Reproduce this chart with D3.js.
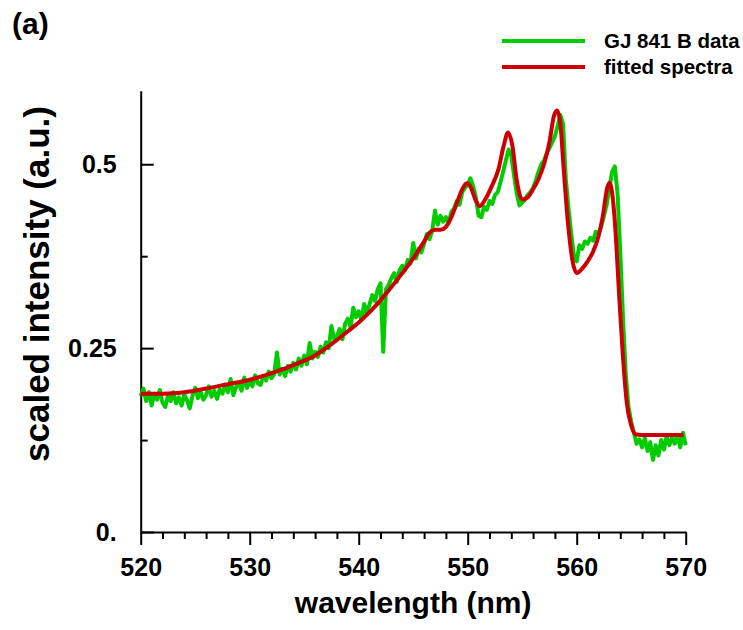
<!DOCTYPE html>
<html>
<head>
    <meta charset="UTF-8">
    <title>GJ 841 B spectrum</title>
    <script src="https://d3js.org/d3.v7.min.js"></script>
    <style>
        body { margin: 0; background: #ffffff; }
        svg { font-family: "Liberation Sans", Arial, sans-serif; font-weight: bold; }
        .axis path, .axis line { stroke: #000; stroke-width: 2; }
        .axis text { font-size: 25px; font-weight: bold; fill: #000; }
    </style>
</head>
<body>
<svg id="chart" width="743" height="630"></svg>
<script>
    // observed spectrum, sampled every 0.25 nm from 520 nm
    const dataStart = 520;
    const dataStep = 0.25;
    const dataValues = [
        0.185, 0.195, 0.178, 0.190,  0.172, 0.188, 0.180, 0.193,  0.176, 0.170, 0.185, 0.178,
        0.190, 0.175, 0.183, 0.172,  0.187, 0.179, 0.168, 0.185,  0.196, 0.182, 0.190, 0.180,
        0.186, 0.198, 0.184, 0.192,  0.181, 0.194, 0.188, 0.200,  0.190, 0.208, 0.186, 0.197,
        0.203, 0.192, 0.210, 0.196,  0.205, 0.198, 0.213, 0.202,  0.200, 0.212, 0.206, 0.218,
        0.209, 0.215, 0.244, 0.214,  0.222, 0.212, 0.226, 0.218,  0.230, 0.221, 0.236, 0.226,
        0.240, 0.228, 0.257, 0.236,  0.245, 0.238, 0.252, 0.244,  0.258, 0.250, 0.280, 0.262,
        0.266, 0.276, 0.262, 0.283,  0.290, 0.278, 0.305, 0.292,  0.300, 0.288, 0.310, 0.297,
        0.310, 0.322, 0.314, 0.330,  0.338, 0.245, 0.330, 0.336,  0.345, 0.352, 0.340, 0.356,
        0.362, 0.356, 0.370, 0.365,  0.393, 0.372, 0.385, 0.380,  0.392, 0.405, 0.398, 0.410,
        0.437, 0.418, 0.430, 0.422,  0.428, 0.420, 0.435, 0.440,  0.450, 0.445, 0.462, 0.468,
        0.472, 0.481, 0.470, 0.455,  0.430, 0.428, 0.442, 0.438,  0.450, 0.446, 0.458, 0.462,
        0.475, 0.490, 0.505, 0.520,  0.512, 0.485, 0.460, 0.444,  0.448, 0.452, 0.458, 0.462,
        0.468, 0.478, 0.490, 0.500,  0.505, 0.515, 0.522, 0.530,  0.538, 0.552, 0.567, 0.555,
        0.480, 0.440, 0.405, 0.375,  0.368, 0.390, 0.385, 0.395,  0.392, 0.400, 0.396, 0.408,
        0.405, 0.415, 0.430, 0.445,  0.468, 0.490, 0.497, 0.460,  0.380, 0.290, 0.215, 0.170,
        0.150, 0.135, 0.120, 0.126,  0.115, 0.128, 0.110, 0.122,  0.098, 0.118, 0.104, 0.125,
        0.112, 0.130, 0.118, 0.128,  0.120, 0.132, 0.115, 0.135,  0.118
    ];

    // fitted spectrum
    const fitWavelengths = [
        520, 522, 524, 526, 528, 530, 532, 533, 534, 535, 536, 537, 538, 539, 540, 541, 542,
        543, 544, 545, 546, 546.5, 547, 547.5, 548, 548.5, 549, 549.5, 549.9, 550.3, 550.7,
        551.1, 551.6, 552.2, 552.8, 553.3, 553.7, 554.1, 554.5, 555.0, 555.5, 556.0, 556.5,
        557.0, 557.5, 557.9, 558.2, 558.5, 558.8, 559.2, 559.6, 560.0, 560.5, 561.0, 561.5,
        562.0, 562.4, 562.8, 563.0, 563.3, 563.6, 563.9, 564.2, 564.6, 565.0, 565.4, 566, 569.8
    ];
    const fitValues = [
        0.188, 0.188, 0.190, 0.195, 0.201, 0.207, 0.216, 0.221, 0.227, 0.233, 0.240, 0.250, 0.261, 0.273, 0.285, 0.299, 0.315,
        0.333, 0.352, 0.372, 0.395, 0.407, 0.411, 0.411, 0.415, 0.428, 0.447, 0.466, 0.474, 0.468, 0.452,
        0.443, 0.452, 0.470, 0.492, 0.525, 0.543, 0.525, 0.478, 0.452, 0.455, 0.466, 0.480,
        0.500, 0.530, 0.565, 0.573, 0.555, 0.495, 0.420, 0.370, 0.352, 0.358, 0.368, 0.381,
        0.402, 0.430, 0.468, 0.475, 0.455, 0.400, 0.320, 0.248, 0.175, 0.145, 0.133, 0.132, 0.132
    ];

    const xMajorTicks = [520, 530, 540, 550, 560, 570];
    const xMinorTicks = [522, 524, 526, 528, 532, 534, 536, 538, 542, 544, 546, 548, 552, 554, 556, 558, 562, 564, 566, 568];
    const yMajorTicks = [0, 0.25, 0.5];
    const yTickLabels = ['0.', '0.25', '0.5'];
    const yMinorTicks = [0.125, 0.375];

    const seriesNames = ['GJ 841 B data', 'fitted spectra'];
    const seriesColors = ['#00cc00', '#cc0000'];

    const observed = dataValues.map((v, i) => ({ wl: dataStart + i * dataStep, v: v }));
    const fitted = fitWavelengths.map((w, i) => ({ wl: w, v: fitValues[i] }));

    const svg = d3.select('#chart');
    const plotLeft = 140.7, plotRight = 685.7, plotTop = 90.7, plotBottom = 532;

    const x = d3.scaleLinear().domain([520, 570]).range([plotLeft, plotRight]);
    const y = d3.scaleLinear().domain([0, 0.6]).range([plotBottom, plotTop]);

    // minor ticks first
    svg.append('g')
        .attr('class', 'axis')
        .attr('transform', `translate(0,${plotBottom})`)
        .call(d3.axisBottom(x).tickValues(xMinorTicks).tickSize(7).tickFormat(''))
        .select('.domain').remove();

    svg.append('g')
        .attr('class', 'axis')
        .attr('transform', `translate(${plotLeft},0)`)
        .call(d3.axisLeft(y).tickValues(yMinorTicks).tickSize(-7).tickFormat(''))
        .select('.domain').remove();

    svg.append('g')
        .attr('class', 'axis')
        .attr('transform', `translate(0,${plotBottom})`)
        .call(d3.axisBottom(x).tickValues(xMajorTicks).tickSize(13).tickSizeOuter(0).tickPadding(13).tickFormat(d3.format('d')));

    svg.append('g')
        .attr('class', 'axis')
        .attr('transform', `translate(${plotLeft},0)`)
        .call(d3.axisLeft(y).tickValues(yMajorTicks).tickSize(-13).tickSizeOuter(0).tickPadding(24)
            .tickFormat((d, i) => yTickLabels[i]));

    // lines
    const line = d3.line().x(d => x(d.wl)).y(d => y(d.v));

    svg.append('path')
        .datum(observed)
        .attr('fill', 'none')
        .attr('stroke', seriesColors[0])
        .attr('stroke-width', 4)
        .attr('stroke-linejoin', 'round')
        .attr('d', line);

    svg.append('path')
        .datum(fitted)
        .attr('fill', 'none')
        .attr('stroke', seriesColors[1])
        .attr('stroke-width', 4)
        .attr('stroke-linejoin', 'round')
        .attr('d', line.curve(d3.curveMonotoneX));

    // axis titles
    svg.append('text')
        .attr('x', (plotLeft + plotRight) / 2)
        .attr('y', 613)
        .attr('text-anchor', 'middle')
        .attr('font-size', 30)
        .text('wavelength (nm)');

    svg.append('text')
        .attr('transform', 'translate(49,284) rotate(-90)')
        .attr('text-anchor', 'middle')
        .attr('font-size', 35)
        .text('scaled intensity (a.u.)');

    svg.append('text')
        .attr('x', 12)
        .attr('y', 34)
        .attr('font-size', 30)
        .text('(a)');

    // legend
    const legend = svg.append('g');
    seriesNames.forEach((name, i) => {
        const ly = 41 + i * 26;
        legend.append('line')
            .attr('x1', 502).attr('x2', 585)
            .attr('y1', ly).attr('y2', ly)
            .attr('stroke', seriesColors[i])
            .attr('stroke-width', 4);
        legend.append('text')
            .attr('x', 604)
            .attr('y', ly + 7)
            .attr('font-size', 20.5)
            .text(name);
    });
</script>
</body>
</html>
